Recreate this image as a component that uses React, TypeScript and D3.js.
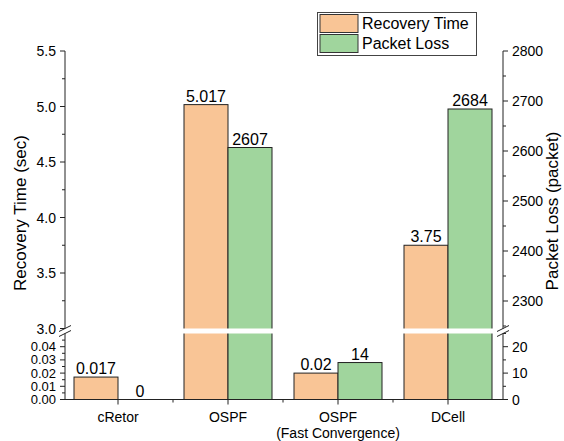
import React from "react";
import * as d3 from "d3";

const categories = ["cRetor", "OSPF", "OSPF\n(Fast Convergence)", "DCell"];
const recoveryTime = [0.017, 5.017, 0.02, 3.75];
const packetLoss = [0, 2607, 14, 2684];
const recoveryLabels = ["0.017", "5.017", "0.02", "3.75"];
const lossLabels = ["0", "2607", "14", "2684"];
const leftUpperTicks = [3.0, 3.5, 4.0, 4.5, 5.0, 5.5];
const leftLowerTicks = [0, 0.01, 0.02, 0.03, 0.04];
const rightUpperTicks = [2300, 2400, 2500, 2600, 2700, 2800];
const rightLowerTicks = [0, 10, 20];

const W = 564, H = 441;
const FONT = "'Liberation Sans', Arial, Helvetica, sans-serif";
const ORANGE = "#F9C596";
const GREEN = "#A0D59D";
const LEFT_X = 65, RIGHT_X = 503, BASE_Y = 399.5;
const BREAK_TOP = 328.5, BREAK_BOT = 333.5, TOP_Y = 51;

export default function App() {
  const x = d3.scaleBand<string>().domain(categories).range([63, 503]).paddingInner(0.2).paddingOuter(0.1);
  const yLU = d3.scaleLinear().domain([3, 5.5]).range([BREAK_TOP, TOP_Y]);
  const yLL = d3.scaleLinear().domain([0, 0.05]).range([BASE_Y, BREAK_BOT]);
  const yRU = d3.scaleLinear().domain([2245, 2800]).range([BREAK_TOP, TOP_Y]);
  const yRL = d3.scaleLinear().domain([0, 25]).range([BASE_Y, BREAK_BOT]);
  const yL = (v: number) => (v > 0.05 ? yLU(v) : yLL(v));
  const yR = (v: number) => (v > 25 ? yRU(v) : yRL(v));
  const bw = x.bandwidth() / 2;

  const leftUpperMinor = d3.range(3.25, 5.5, 0.5);
  const leftLowerMinor = d3.range(0.005, 0.05, 0.01);
  const rightUpperMinor = d3.range(2250, 2800, 100);
  const rightLowerMinor = [5, 15, 25];

  const breakMarks = (cx: number) =>
    [BREAK_TOP, BREAK_BOT].map((yy, i) => (
      <line key={i} x1={cx - 6} y1={yy + 3} x2={cx + 6} y2={yy - 3} stroke="#222" strokeWidth={1} />
    ));

  return (
    <svg width={W} height={H} style={{ position: "absolute", left: 0, top: 0, background: "#fff" }} fontFamily={FONT}>
      <rect x={0} y={0} width={W} height={H} fill="#fff" />
      {/* bars */}
      {categories.map((c, i) => {
        const x0 = x(c)!;
        const tl = yL(recoveryTime[i]);
        const tr = yR(packetLoss[i]);
        return (
          <g key={c}>
            <rect x={x0} y={tl} width={bw} height={BASE_Y - tl} fill={ORANGE} stroke="#222" strokeWidth={1} />
            {packetLoss[i] > 0 && (
              <rect x={x0 + bw} y={tr} width={bw} height={BASE_Y - tr} fill={GREEN} stroke="#222" strokeWidth={1} />
            )}
            {(recoveryTime[i] > 0.05 || packetLoss[i] > 25) && (
              <rect x={x0 - 1.5} y={BREAK_TOP} width={2 * bw + 3} height={BREAK_BOT - BREAK_TOP} fill="#fff" />
            )}
            <text x={x0 + bw / 2} y={tl - 3} textAnchor="middle" fontSize={16} fill="#000">{recoveryLabels[i]}</text>
            <text x={x0 + bw * 1.5} y={tr - 3} textAnchor="middle" fontSize={16} fill="#000">{lossLabels[i]}</text>
          </g>
        );
      })}

      {/* left axis */}
      <line x1={LEFT_X} y1={TOP_Y} x2={LEFT_X} y2={BREAK_TOP} stroke="#222" />
      <line x1={LEFT_X} y1={BREAK_BOT} x2={LEFT_X} y2={BASE_Y} stroke="#222" />
      {leftUpperTicks.map((t) => (
        <g key={"lu" + t}>
          <line x1={LEFT_X - 5} x2={LEFT_X} y1={yLU(t)} y2={yLU(t)} stroke="#222" />
          <text x={LEFT_X - 9} y={yLU(t) + 5} textAnchor="end" fontSize={14}>{t.toFixed(1)}</text>
        </g>
      ))}
      {leftUpperMinor.map((t) => (
        <line key={"lum" + t} x1={LEFT_X - 3} x2={LEFT_X} y1={yLU(t)} y2={yLU(t)} stroke="#222" />
      ))}
      {leftLowerTicks.map((t) => (
        <g key={"ll" + t}>
          <line x1={LEFT_X - 5} x2={LEFT_X} y1={yLL(t)} y2={yLL(t)} stroke="#222" />
          <text x={LEFT_X - 9} y={yLL(t) + 4.5} textAnchor="end" fontSize={13}>{t.toFixed(2)}</text>
        </g>
      ))}
      {leftLowerMinor.map((t) => (
        <line key={"llm" + t} x1={LEFT_X - 3} x2={LEFT_X} y1={yLL(t)} y2={yLL(t)} stroke="#222" />
      ))}
      {breakMarks(LEFT_X)}

      {/* right axis */}
      <line x1={RIGHT_X} y1={TOP_Y} x2={RIGHT_X} y2={BREAK_TOP} stroke="#222" />
      <line x1={RIGHT_X} y1={BREAK_BOT} x2={RIGHT_X} y2={BASE_Y} stroke="#222" />
      {rightUpperTicks.map((t) => (
        <g key={"ru" + t}>
          <line x1={RIGHT_X} x2={RIGHT_X + 5} y1={yRU(t)} y2={yRU(t)} stroke="#222" />
          <text x={RIGHT_X + 9} y={yRU(t) + 5} textAnchor="start" fontSize={14}>{t}</text>
        </g>
      ))}
      {rightUpperMinor.map((t) => (
        <line key={"rum" + t} x1={RIGHT_X} x2={RIGHT_X + 3} y1={yRU(t)} y2={yRU(t)} stroke="#222" />
      ))}
      {rightLowerTicks.map((t) => (
        <g key={"rl" + t}>
          <line x1={RIGHT_X} x2={RIGHT_X + 5} y1={yRL(t)} y2={yRL(t)} stroke="#222" />
          <text x={RIGHT_X + 9} y={yRL(t) + 5} textAnchor="start" fontSize={14}>{t}</text>
        </g>
      ))}
      {rightLowerMinor.map((t) => (
        <line key={"rlm" + t} x1={RIGHT_X} x2={RIGHT_X + 3} y1={yRL(t)} y2={yRL(t)} stroke="#222" />
      ))}
      {breakMarks(RIGHT_X)}

      {/* bottom axis */}
      <line x1={LEFT_X} y1={BASE_Y} x2={RIGHT_X} y2={BASE_Y} stroke="#222" />
      {categories.map((c, i) => {
        const cx = x(c)! + x.bandwidth() / 2;
        const lines = c.split("\n");
        return (
          <g key={"xt" + c}>
            <line x1={cx} x2={cx} y1={BASE_Y} y2={BASE_Y + 5} stroke="#222" />
            {i > 0 && (
              <line x1={x(c)! - x.step() * 0.1} x2={x(c)! - x.step() * 0.1} y1={BASE_Y} y2={BASE_Y + 3} stroke="#222" />
            )}
            {lines.map((l, j) => (
              <text key={j} x={cx} y={422 + j * 16} textAnchor="middle" fontSize={14}>{l}</text>
            ))}
          </g>
        );
      })}

      {/* axis titles */}
      <text transform={`translate(26,213) rotate(-90)`} textAnchor="middle" fontSize={17}>Recovery Time (sec)</text>
      <text transform={`translate(558,211) rotate(-90)`} textAnchor="middle" fontSize={17}>Packet Loss (packet)</text>

      {/* legend */}
      <rect x={317.5} y={12.5} width={159} height={43} fill="#fff" stroke="#444" strokeWidth={1} />
      <rect x={320} y={14.5} width={38} height={18} fill={ORANGE} stroke="#333" strokeWidth={1} />
      <rect x={320} y={34.5} width={38} height={18} fill={GREEN} stroke="#333" strokeWidth={1} />
      <text x={362} y={29} fontSize={16}>Recovery Time</text>
      <text x={362} y={49} fontSize={16}>Packet Loss</text>
    </svg>
  );
}
